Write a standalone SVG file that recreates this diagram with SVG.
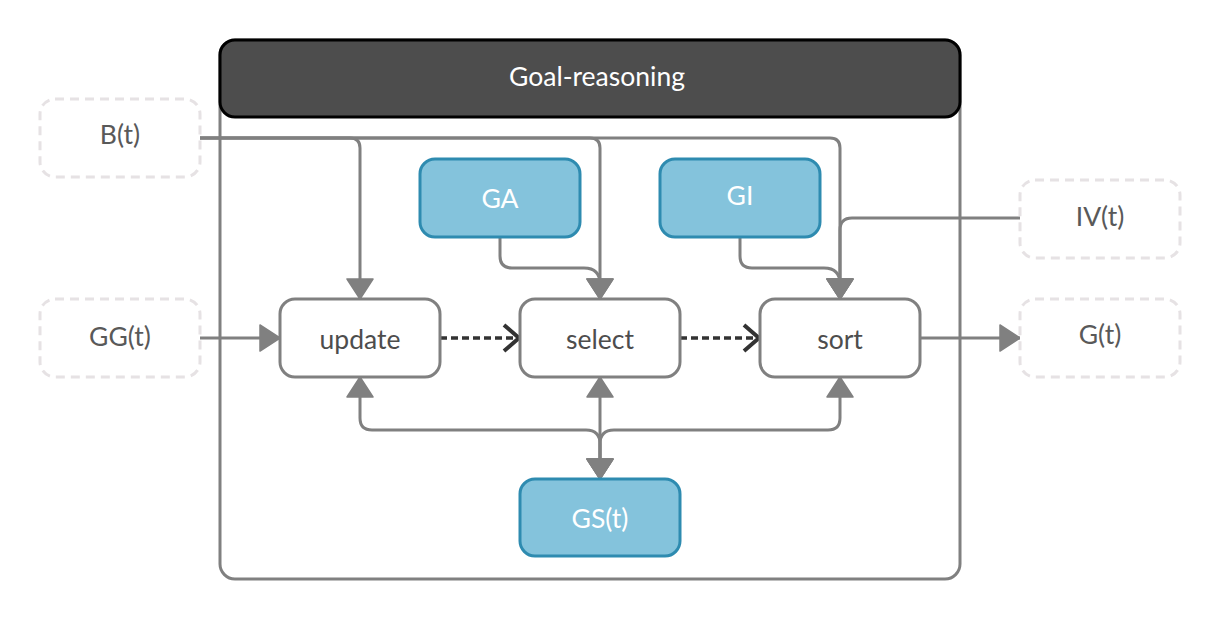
<svg xmlns="http://www.w3.org/2000/svg" width="1221" height="620" viewBox="0 0 1221 620">
<style>
text{font-family:Lato,"Open Sans","Liberation Sans",sans-serif;font-size:26.5px;text-anchor:middle;dominant-baseline:central}
.ext rect{fill:#fff;stroke:#e6e2e4;stroke-width:3;stroke-dasharray:9 6}
.ext text{fill:#595959}
.proc rect{fill:#fff;stroke:#808080;stroke-width:3}
.proc text{fill:#4d4d4d}
.store rect{fill:#84c3dc;stroke:#2e8bb0;stroke-width:3}
.store text{fill:#fff}
.flow{fill:none;stroke:#808080;stroke-width:3}
.seq{fill:none;stroke:#333;stroke-width:3.5;stroke-dasharray:7 4}
</style>
<defs>
<marker id="tri" markerUnits="userSpaceOnUse" markerWidth="24" markerHeight="30" refX="21" refY="15" orient="auto-start-reverse" viewBox="0 0 24 30">
<path d="M1,2 L21,15 L1,28 z" fill="#808080" stroke="#808080" stroke-width="1.5" stroke-linejoin="round"/>
</marker>
<marker id="chev" markerUnits="userSpaceOnUse" markerWidth="22" markerHeight="32" refX="18" refY="16" orient="auto" viewBox="0 0 22 32">
<path d="M3,3 L18,16 L3,29" fill="none" stroke="#333" stroke-width="4"/>
</marker>
</defs>
<g id="container">
<rect x="220" y="40" width="740" height="539" rx="15" fill="#fff" stroke="#808080" stroke-width="3"/>
<rect x="220" y="40" width="740" height="77" rx="15" fill="#4d4d4d" stroke="#000" stroke-width="3"/>
<text x="597" y="76" fill="#fff">Goal-reasoning</text>
</g>
<g id="connectors">
<path class="flow" d="M200,138 H350 Q360,138 360,148 V299" marker-end="url(#tri)"/>
<path class="flow" d="M200,138 H590 Q600,138 600,148 V299" marker-end="url(#tri)"/>
<path class="flow" d="M200,138 H830 Q840,138 840,148 V299" marker-end="url(#tri)"/>
<path class="flow" d="M500,237 V256 Q500,268 512,268 H584 Q600,268 600,284 V299" marker-end="url(#tri)"/>
<path class="flow" d="M740,237 V256 Q740,268 752,268 H824 Q840,268 840,284 V299" marker-end="url(#tri)"/>
<path class="flow" d="M1020,218 H852 Q840,218 840,230 V299" marker-end="url(#tri)"/>
<path class="flow" d="M200,338 H280" marker-end="url(#tri)"/>
<path class="flow" d="M920,338 H1020" marker-end="url(#tri)"/>
<path class="seq" d="M440,338 H519" marker-end="url(#chev)"/>
<path class="seq" d="M680,338 H759" marker-end="url(#chev)"/>
<path class="flow" d="M360,377 V418 Q360,430 372,430 H586 Q600,430 600,444 V479" marker-start="url(#tri)" marker-end="url(#tri)"/>
<path class="flow" d="M600,377 V479" marker-start="url(#tri)" marker-end="url(#tri)"/>
<path class="flow" d="M840,377 V418 Q840,430 828,430 H614 Q600,430 600,444 V479" marker-start="url(#tri)" marker-end="url(#tri)"/>
</g>
<g id="B" class="ext"><rect x="40" y="99" width="160" height="78" rx="15"/><text x="120" y="134">B(t)</text></g>
<g id="GG" class="ext"><rect x="40" y="299" width="160" height="78" rx="15"/><text x="120" y="336">GG(t)</text></g>
<g id="IV" class="ext"><rect x="1020" y="180" width="160" height="78" rx="15"/><text x="1100" y="216">IV(t)</text></g>
<g id="G" class="ext"><rect x="1020" y="299" width="160" height="78" rx="15"/><text x="1100" y="334">G(t)</text></g>
<g id="update" class="proc"><rect x="280" y="299" width="160" height="78" rx="15"/><text x="360" y="339">update</text></g>
<g id="select" class="proc"><rect x="520" y="299" width="160" height="78" rx="15"/><text x="600" y="339">select</text></g>
<g id="sort" class="proc"><rect x="760" y="299" width="160" height="78" rx="15"/><text x="840" y="339">sort</text></g>
<g id="GA" class="store"><rect x="420" y="159" width="160" height="78" rx="15"/><text x="500" y="198">GA</text></g>
<g id="GI" class="store"><rect x="660" y="159" width="160" height="78" rx="15"/><text x="740" y="195">GI</text></g>
<g id="GS" class="store"><rect x="520" y="479" width="160" height="77" rx="15"/><text x="600" y="518">GS(t)</text></g>
</svg>
